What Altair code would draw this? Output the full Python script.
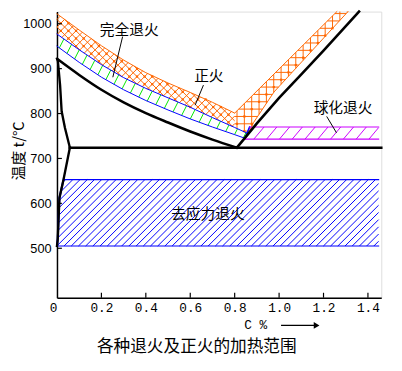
import altair as alt
import numpy as np
import pandas as pd

# ---------------- values ----------------
X_TICKS = [0.0, 0.2, 0.4, 0.6, 0.8, 1.0, 1.2, 1.4]
Y_TICKS = [500, 600, 700, 800, 900, 1000]
X_DOMAIN = [0.0, 1.46]
Y_DOMAIN = [390, 1027]

# phase-diagram lines (black)
A3_X = [0.0, 0.1, 0.2, 0.3, 0.4, 0.5, 0.6, 0.7, 0.81]
A3_T = [922, 886, 853, 825, 801, 780, 760, 742, 724]
ACM_X = [0.81, 0.9, 1.0, 1.1, 1.2, 1.36]
ACM_T = [724, 778, 835, 887, 940, 1027]
A1_X = [0.058, 1.46]
A1_T = [724, 724]
GP_X = [0.0, 0.004, 0.014, 0.021, 0.036, 0.058]
GP_T = [922, 917, 863, 805, 768, 724]
PQ_X = [0.058, 0.029, 0.011, 0.0035, 0.0]
PQ_T = [724, 652, 612, 521, 505]

# heating ranges
BAND_X = [0.0, 0.1, 0.2, 0.3, 0.4, 0.5, 0.6, 0.7, 0.8]
NORM_TOP = [1022, 986, 951, 919, 891, 868, 847, 825, 801]   # 正火 upper edge
FULL_TOP = [977, 942, 909, 880, 856, 835, 814, 791, 769]    # 完全退火 upper edge
FULL_BOT = [950, 914, 881, 853, 829, 808, 788, 770, 753]    # 完全退火 lower edge
FULL_END_X = [0.862, 0.846]
FULL_END_T = [755, 745]
ARM_TOP_X = [0.8, 1.26, 1.31]
ARM_TOP_T = [801, 1027, 1027]
ARM_LOW_X = [1.31, 0.977, 0.885, 0.862]
ARM_LOW_T = [1027, 848, 780, 755]
SPH_X = [0.845, 0.867, 1.448]
SPH_T = [743, 770]
SR_T = [505, 653]
SR_RIGHT = 1.448

ORANGE = "#ff6600"
GREEN = "#00e600"
BLUE = "#0000ff"
PURPLE = "#cc00ff"

W, H = 331, 292
SX = W / (X_DOMAIN[1] - X_DOMAIN[0])
SY = H / (Y_DOMAIN[1] - Y_DOMAIN[0])


# ---------------- hatch helpers (texture only) ----------------
def to_px(xs, ys):
    return np.column_stack([np.asarray(xs, float) * SX, np.asarray(ys, float) * SY])


def hatch(xs, ys, angle, spacing, color):
    P = to_px(xs, ys)
    th = np.radians(angle)
    d = np.array([np.cos(th), np.sin(th)])
    n = np.array([-np.sin(th), np.cos(th)])
    proj = P @ n
    rows = []
    c = np.floor(proj.min() / spacing) * spacing + spacing * 0.5
    m = len(P)
    while c <= proj.max():
        pts = []
        for i in range(m):
            a, b = P[i], P[(i + 1) % m]
            fa, fb = a @ n - c, b @ n - c
            if (fa < 0) != (fb < 0):
                t = fa / (fa - fb)
                pts.append(a + t * (b - a))
        pts.sort(key=lambda q: q @ d)
        for k in range(0, len(pts) - 1, 2):
            p, q = pts[k], pts[k + 1]
            rows.append(dict(x=p[0] / SX, y=p[1] / SY, x2=q[0] / SX, y2=q[1] / SY, c=color))
        c += spacing
    return rows


def inside(pt, P):
    x, y = pt
    res = False
    m = len(P)
    for i in range(m):
        x1, y1 = P[i]
        x2, y2 = P[(i + 1) % m]
        if (y1 > y) != (y2 > y):
            xi = x1 + (y - y1) * (x2 - x1) / (y2 - y1)
            if xi > x:
                res = not res
    return res


def dots(xs, ys, a1, a2, spacing):
    P = to_px(xs, ys)
    t1, t2 = np.radians(a1), np.radians(a2)
    n1 = np.array([-np.sin(t1), np.cos(t1)])
    n2 = np.array([-np.sin(t2), np.cos(t2)])
    M = np.vstack([n1, n2])
    p1, p2 = P @ n1, P @ n2
    out = []
    i0 = int(np.floor(p1.min() / spacing))
    j0 = int(np.floor(p2.min() / spacing))
    for i in range(i0, int(np.ceil(p1.max() / spacing)) + 1):
        for j in range(j0, int(np.ceil(p2.max() / spacing)) + 1):
            if (i + j) % 2:
                continue
            c1 = i * spacing + spacing * 0.5
            c2 = j * spacing + spacing * 0.5
            q = np.linalg.solve(M, np.array([c1, c2]))
            if inside(q, P):
                out.append(dict(x=q[0] / SX, y=q[1] / SY))
    return out


# polygons of the ranges
norm_left_x = BAND_X + BAND_X[::-1]
norm_left_y = NORM_TOP + FULL_TOP[::-1]
norm_right_x = ARM_TOP_X + ARM_LOW_X[1:] + [BAND_X[-1]]
norm_right_y = ARM_TOP_T + ARM_LOW_T[1:] + [FULL_TOP[-1]]
full_x = BAND_X + FULL_END_X + BAND_X[::-1]
full_y = FULL_TOP + FULL_END_T + FULL_BOT[::-1]
sph_x = [SPH_X[0], SPH_X[2], SPH_X[2], SPH_X[1]]
sph_y = [SPH_T[0], SPH_T[0], SPH_T[1], SPH_T[1]]
sr_x = [PQ_X[1], SR_RIGHT, SR_RIGHT, PQ_X[4], PQ_X[3], PQ_X[2]]
sr_y = [SR_T[1], SR_T[1], SR_T[0], SR_T[0], PQ_T[3], PQ_T[2]]

rows = []
rows += hatch(norm_left_x, norm_left_y, 45, 5.5, ORANGE)
rows += hatch(norm_left_x, norm_left_y, 135, 5.5, ORANGE)
rows += hatch(norm_right_x, norm_right_y, 0, 7.5, ORANGE)
rows += hatch(norm_right_x, norm_right_y, 90, 7.5, ORANGE)
rows += hatch(full_x, full_y, 63, 9.5, GREEN)
rows += hatch(sph_x, sph_y, 50, 10, PURPLE)
rows += hatch(sr_x, sr_y, 45, 5.2, BLUE)
hatch_df = pd.DataFrame(rows)

dot_df = pd.DataFrame(dots(norm_left_x, norm_left_y, 45, 135, 5.5)
                      + dots(norm_right_x, norm_right_y, 0, 90, 7.5))

# outline polylines
lines = []


def add_line(xs, ys, col, w):
    lid = len(set(r["id"] for r in lines))
    for k, (a, b) in enumerate(zip(xs, ys)):
        lines.append(dict(x=a, y=b, id=lid, ord=k, col=col, w=w))


add_line(BAND_X + ARM_TOP_X[1:2], NORM_TOP + ARM_TOP_T[1:2], ORANGE, 1)
add_line(ARM_LOW_X[::-1], ARM_LOW_T[::-1], ORANGE, 1)
add_line(BAND_X + FULL_END_X[:1], FULL_TOP + FULL_END_T[:1], BLUE, 1)
add_line(BAND_X + FULL_END_X[1:], FULL_BOT + FULL_END_T[1:], BLUE, 1)
add_line(FULL_END_X, FULL_END_T, BLUE, 1.5)
add_line([SPH_X[0], SPH_X[1]], SPH_T, BLUE, 1.5)
add_line([SPH_X[1], SPH_X[2]], [SPH_T[1], SPH_T[1]], PURPLE, 1.2)
add_line([SPH_X[0], SPH_X[2]], [SPH_T[0], SPH_T[0]], PURPLE, 1.2)
add_line([PQ_X[1], SR_RIGHT], [SR_T[1], SR_T[1]], BLUE, 1.2)
add_line([PQ_X[4], SR_RIGHT], [SR_T[0], SR_T[0]], BLUE, 1.2)
add_line(PQ_X[1:], PQ_T[1:], BLUE, 2)
add_line(ACM_X, ACM_T, "black", 2.6)
add_line(A1_X, A1_T, "black", 2.6)
add_line(GP_X, GP_T, "black", 2.4)
add_line(PQ_X, PQ_T, "black", 2.4)
lines_df = pd.DataFrame(lines)
a3_df = pd.DataFrame({"x": A3_X, "y": A3_T})

# ---------------- chart ----------------
XS = alt.Scale(domain=X_DOMAIN, nice=False, zero=False)
YS = alt.Scale(domain=Y_DOMAIN, nice=False, zero=False)
XAX = alt.Axis(
    values=X_TICKS,
    labelExpr="datum.value == 0 ? '0' : format(datum.value, '.1f')",
    labelFont="Liberation Mono", labelFontSize=13, labelColor="black",
    labelPadding=4, labelFlush=False,
    labelAlign={"condition": {"test": "datum.value == 0", "value": "right"}, "value": "center"},
    ticks=False, grid=False, domainColor="black", domainWidth=1.5, title=None,
)
YAX = alt.Axis(
    values=Y_TICKS, format="d", labelFont="Liberation Sans", labelFontSize=13, labelColor="black",
    labelPadding=6, ticks=False, grid=False, domainColor="black", domainWidth=1.5, title=None,
)


def xq(f):
    return alt.X(f, type="quantitative", scale=XS, axis=XAX)


def yq(f):
    return alt.Y(f, type="quantitative", scale=YS, axis=YAX)


hatch_layer = alt.Chart(hatch_df).mark_rule(strokeWidth=1).encode(
    x=xq("x"), y=yq("y"), x2="x2:Q", y2="y2:Q", color=alt.Color("c:N", scale=None)
)
dot_layer = alt.Chart(dot_df).mark_square(size=5, color=ORANGE, opacity=1).encode(x=xq("x"), y=yq("y"))
line_layer = alt.Chart(lines_df).mark_line(strokeCap="square").encode(
    x=xq("x"), y=yq("y"), detail="id:N", order="ord:Q",
    color=alt.Color("col:N", scale=None), strokeWidth=alt.StrokeWidth("w:Q", scale=None),
)
a3_layer = alt.Chart(a3_df).mark_line(color="black", strokeWidth=2.6, interpolate="monotone").encode(
    x=xq("x"), y=yq("y")
)

xt_df = pd.DataFrame({"x": X_TICKS[1:]})
xtick_layer = alt.Chart(xt_df).mark_rule(color="black", strokeWidth=1.2).encode(
    x=xq("x"), y=alt.value(H), y2=alt.value(H - 5)
)
yt_df = pd.DataFrame({"y": Y_TICKS})
ytick_layer = alt.Chart(yt_df).mark_rule(color="black", strokeWidth=1.2).encode(
    y=yq("y"), x=alt.value(0), x2=alt.value(5)
)

one = pd.DataFrame({"a": [0]})
CJK = "Noto Sans CJK SC"


def label(text, x, y, size=15, font=CJK, angle=0):
    kw = dict(text=text, font=font, fontSize=size, color="black", align="center", baseline="middle")
    if angle:
        kw["angle"] = angle
    return alt.Chart(one).mark_text(**kw).encode(x=alt.value(x), y=alt.value(y))


def leader(x1, y1, x2, y2, w=1):
    return alt.Chart(one).mark_rule(color="black", strokeWidth=w).encode(
        x=alt.value(x1), y=alt.value(y1), x2=alt.value(x2), y2=alt.value(y2)
    )


texts = [
    label("完全退火", 73.7, 19),
    leader(67, 25.5, 57, 67),
    label("正火", 155, 66),
    leader(149.5, 75, 141, 95.5),
    label("球化退火", 292, 98),
    leader(275.3, 107, 285.3, 123.7),
    label("去应力退火", 154, 207),
    label("温度 t/°C", -39, 142, angle=270),
    label("C %", 202.8, 320.3, size=13, font="Liberation Mono"),
    leader(228.7, 320.3, 264, 320.3, 1.3),
    alt.Chart(one).mark_point(shape="triangle-right", filled=True, color="black", size=45, opacity=1).encode(
        x=alt.value(265), y=alt.value(320.3)
    ),
    label("各种退火及正火的加热范围", 142.7, 342, size=17),
]

chart = alt.layer(
    hatch_layer, dot_layer, line_layer, a3_layer, xtick_layer, ytick_layer, *texts
).properties(
    width=W, height=H,
    padding={"left": 50, "top": 0, "right": 13, "bottom": 63},
    autosize=alt.AutoSizeParams(type="none"),
).configure_view(stroke=None).configure(background="white")

chart.save("out.html", embed_options={"renderer": "svg", "actions": False})
